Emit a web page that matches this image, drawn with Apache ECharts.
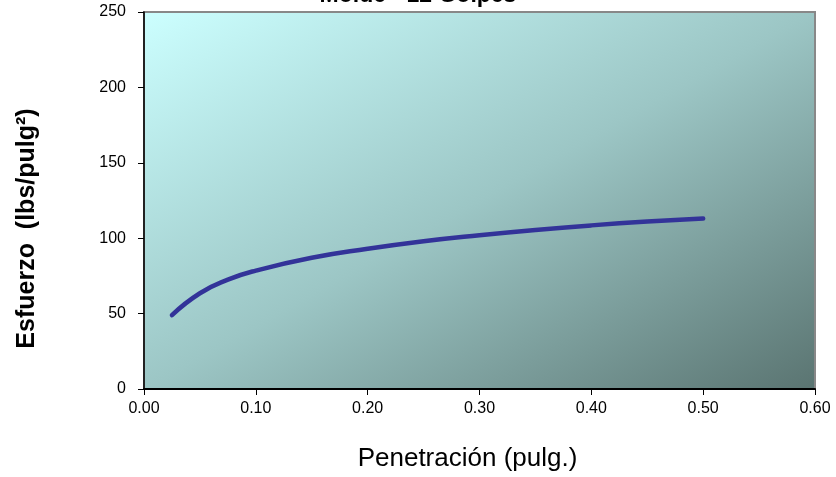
<!DOCTYPE html>
<html>
<head>
<meta charset="utf-8">
<script src="https://cdn.jsdelivr.net/npm/echarts@6/dist/echarts.min.js"></script>
<style>
  html, body { margin: 0; padding: 0; background: #fff; }
  #chart { width: 836px; height: 477px; }
</style>
</head>
<body>
<div id="chart"></div>
<script>
// Penetration (in.) vs. stress (lbs/in²) for the 12-blow mould
const penetracion = [0.025, 0.05, 0.075, 0.10, 0.15, 0.20, 0.25, 0.30, 0.35, 0.40, 0.45, 0.50];
const esfuerzo    = [49, 63.5, 72.5, 78.5, 87, 93, 98, 102, 105.5, 108.5, 111, 113];

const titulo = 'Molde - 12 Golpes';
const nombreX = 'Penetración (pulg.)';
const nombreY = 'Esfuerzo  (lbs/pulg²)';

const FUENTE = 'Liberation Sans, Arial, sans-serif';

// Plot-area size, used to orient the diagonal fill corner to corner
const GRID = { left: 144, right: 21, top: 12, bottom: 87 };
const W = 836 - GRID.left - GRID.right;
const H = 477 - GRID.top - GRID.bottom;
const d2 = W * W + H * H;

const chart = echarts.init(document.getElementById('chart'), null, { renderer: 'canvas' });

const puntos = penetracion.map((x, i) => [x, esfuerzo[i]]);

chart.setOption({
  animation: false,
  backgroundColor: '#ffffff',
  title: {
    text: titulo,
    left: 'center',
    top: -21,
    textStyle: { fontFamily: FUENTE, fontSize: 23, fontWeight: 'bold', color: '#000' }
  },
  grid: {
    left: GRID.left, right: GRID.right, top: GRID.top, bottom: GRID.bottom,
    show: true,
    borderColor: '#888888',
    borderWidth: 2,
    backgroundColor: {
      type: 'linear', x: 0, y: 0, x2: 2 * H * H / d2, y2: 2 * W * W / d2,
      colorStops: [
        { offset: 0, color: '#ccffff' },
        { offset: 0.5, color: '#9cc6c5' },
        { offset: 1, color: '#5a7471' }
      ]
    }
  },
  xAxis: {
    type: 'value',
    min: 0, max: 0.6, interval: 0.1,
    name: nombreX,
    nameLocation: 'middle',
    nameGap: 57,
    nameTextStyle: { fontFamily: FUENTE, fontSize: 26, color: '#000', padding: [0, 24, 0, 0] },
    axisLine: { show: true, lineStyle: { color: '#000', width: 2 } },
    axisTick: { show: true, length: 6, inside: false, lineStyle: { color: '#000' } },
    axisLabel: {
      margin: 12,
      fontFamily: FUENTE, fontSize: 16, color: '#000',
      formatter: v => v.toFixed(2)
    },
    splitLine: { show: false }
  },
  yAxis: {
    type: 'value',
    min: 0, max: 250, interval: 50,
    name: nombreY,
    nameLocation: 'middle',
    nameGap: 104,
    nameRotate: 90,
    nameTextStyle: { fontFamily: FUENTE, fontSize: 25, fontWeight: 'bold', color: '#000', padding: [0, 56, 0, 0] },
    axisLine: { show: true, lineStyle: { color: '#000', width: 1.5 } },
    axisTick: { show: true, length: 6, inside: false, lineStyle: { color: '#000' } },
    axisLabel: {
      margin: 18,
      fontFamily: FUENTE, fontSize: 16, color: '#000'
    },
    splitLine: { show: false }
  },
  series: [{
    type: 'line',
    data: puntos,
    smooth: true,
    showSymbol: false,
    symbol: 'none',
    lineStyle: { color: '#333399', width: 4.5, cap: 'round', join: 'round' }
  }]
});
</script>
</body>
</html>
